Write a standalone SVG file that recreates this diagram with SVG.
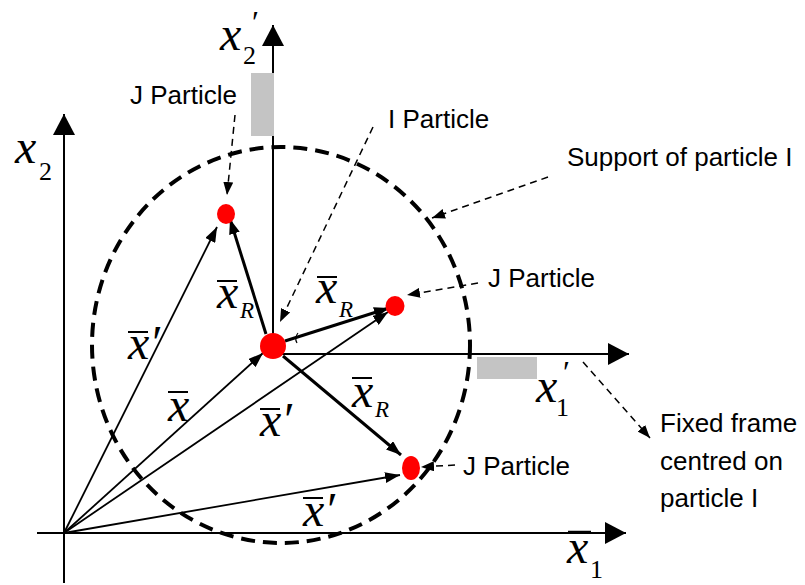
<svg xmlns="http://www.w3.org/2000/svg" width="805" height="585" viewBox="0 0 805 585">
<style>
.ax{stroke:#000;stroke-width:2;fill:none}
.vec{stroke:#000;stroke-width:1.8;fill:none}
.vr{stroke:#000;stroke-width:3;fill:none}
.ld{stroke:#000;stroke-width:1.5;fill:none;stroke-dasharray:7 5}
.sup{stroke:#000;stroke-width:4;fill:none;stroke-dasharray:14 8}
.ol{stroke:#000;stroke-width:2}
.m{font-family:"Liberation Serif","Times New Roman",serif;font-style:italic;font-size:48px;fill:#000}
.s{font-family:"Liberation Serif","Times New Roman",serif;font-size:26px;fill:#000}
.si{font-family:"Liberation Serif","Times New Roman",serif;font-style:italic;font-size:23px;fill:#000}
.pr{font-family:"Liberation Serif","Times New Roman",serif;font-style:italic;font-size:32px;fill:#000}
.t{font-family:"Liberation Sans",Arial,sans-serif;font-size:26px;fill:#000}
.p{fill:#ff0000}
.g{fill:#c4c4c4}
</style>
<defs>
<marker id="big" markerUnits="userSpaceOnUse" viewBox="0 0 21 22" refX="21" refY="11" markerWidth="21" markerHeight="22" orient="auto"><path d="M0,0 L21,11 L0,22 z" fill="#000"/></marker>
<marker id="sm" markerUnits="userSpaceOnUse" viewBox="0 0 15 11" refX="15" refY="5.5" markerWidth="15" markerHeight="11" orient="auto"><path d="M0,0 L15,5.5 L0,11 z" fill="#000"/></marker>
<marker id="ld" markerUnits="userSpaceOnUse" viewBox="0 0 13 10" refX="13" refY="5" markerWidth="13" markerHeight="10" orient="auto"><path d="M0,0 L13,5 L0,10 z" fill="#000"/></marker>
</defs>

<g id="axes">
<line class="ax" x1="37" y1="533" x2="626" y2="533" marker-end="url(#big)"/>
<line class="ax" x1="64" y1="583" x2="64" y2="114" marker-end="url(#big)"/>
<line class="ax" x1="280" y1="354" x2="629" y2="354" marker-end="url(#big)"/>
<line class="ax" x1="273" y1="340" x2="273" y2="25" marker-end="url(#big)"/>
<rect class="g" x="251" y="73" width="23" height="63"/>
<rect class="g" x="477" y="357" width="60" height="22"/>
</g>

<g id="support">
<ellipse class="sup" cx="281" cy="345" rx="189" ry="198"/>
</g>

<g id="connectors">
<line class="vec" x1="64" y1="533" x2="217" y2="227" marker-end="url(#sm)"/>
<line class="vec" x1="64" y1="533" x2="263" y2="353" marker-end="url(#sm)"/>
<line class="vec" x1="64" y1="533" x2="388" y2="312" marker-end="url(#sm)"/>
<line class="vec" x1="64" y1="533" x2="400" y2="475" marker-end="url(#sm)"/>
<line class="vr" x1="266" y1="334" x2="230" y2="219" marker-end="url(#sm)"/>
<line class="vr" x1="285" y1="341" x2="389" y2="308" marker-end="url(#sm)"/>
<line class="vr" x1="283" y1="356" x2="401" y2="455" marker-end="url(#sm)"/>
<line class="ld" x1="235" y1="115" x2="227" y2="195" marker-end="url(#ld)"/>
<line class="ld" x1="373" y1="127" x2="280" y2="322" marker-end="url(#ld)"/>
<line class="ld" x1="548" y1="177" x2="432" y2="218" marker-end="url(#ld)"/>
<line class="ld" x1="478" y1="283" x2="407" y2="295" marker-end="url(#ld)"/>
<line class="ld" x1="455" y1="465" x2="421" y2="467" marker-end="url(#ld)"/>
<line class="ld" x1="583" y1="362" x2="650" y2="438" marker-end="url(#ld)"/>
<path d="M298,333 Q294,338 297,343" stroke="#000" stroke-width="1.2" fill="none"/>
</g>

<g id="particle-I"><circle class="p" cx="273" cy="346" r="13"/></g>
<g id="particle-J1"><ellipse class="p" cx="226" cy="214" rx="9" ry="10"/></g>
<g id="particle-J2"><ellipse class="p" cx="395" cy="306" rx="9.5" ry="10"/></g>
<g id="particle-J3"><ellipse class="p" cx="411" cy="468" rx="9" ry="12"/></g>

<g id="labels">
<text class="m" x="15" y="163">x</text><text class="s" x="39" y="180">2</text>
<text class="m" x="220" y="50">x</text><text class="s" x="243" y="64">2</text><text class="pr" x="250" y="33">′</text>
<text class="m" x="536" y="402">x</text><text class="s" x="556" y="416">1</text><text class="pr" x="561" y="383">′</text>
<text class="m" x="567" y="563">x</text><text class="s" x="590" y="578">1</text>
<line class="ol" x1="568" y1="532" x2="591" y2="532" style="stroke-width:2.5"/>

<text class="m" x="128" y="359">x′</text><line class="ol" x1="128" y1="332" x2="148" y2="332"/>
<text class="m" x="168" y="421">x</text><line class="ol" x1="168" y1="392" x2="188" y2="392"/>
<text class="m" x="260" y="436">x′</text><line class="ol" x1="260" y1="409" x2="280" y2="409"/>
<text class="m" x="303" y="526">x′</text><line class="ol" x1="303" y1="498" x2="323" y2="498"/>

<text class="m" x="217" y="308">x</text><text class="si" x="240" y="318">R</text><line class="ol" x1="217" y1="281" x2="237" y2="281"/>
<text class="m" x="316" y="303">x</text><text class="si" x="339" y="317">R</text><line class="ol" x1="317" y1="277" x2="337" y2="277"/>
<text class="m" x="352" y="407">x</text><text class="si" x="375" y="417">R</text><line class="ol" x1="352" y1="378" x2="372" y2="378"/>

<text class="t" x="130" y="104">J Particle</text>
<text class="t" x="388" y="128">I Particle</text>
<text class="t" x="567" y="166">Support of particle I</text>
<text class="t" x="488" y="287">J Particle</text>
<text class="t" x="463" y="475">J Particle</text>
<text class="t" x="660" y="432">Fixed frame</text>
<text class="t" x="660" y="470">centred on</text>
<text class="t" x="660" y="507">particle I</text>
</g>
</svg>
